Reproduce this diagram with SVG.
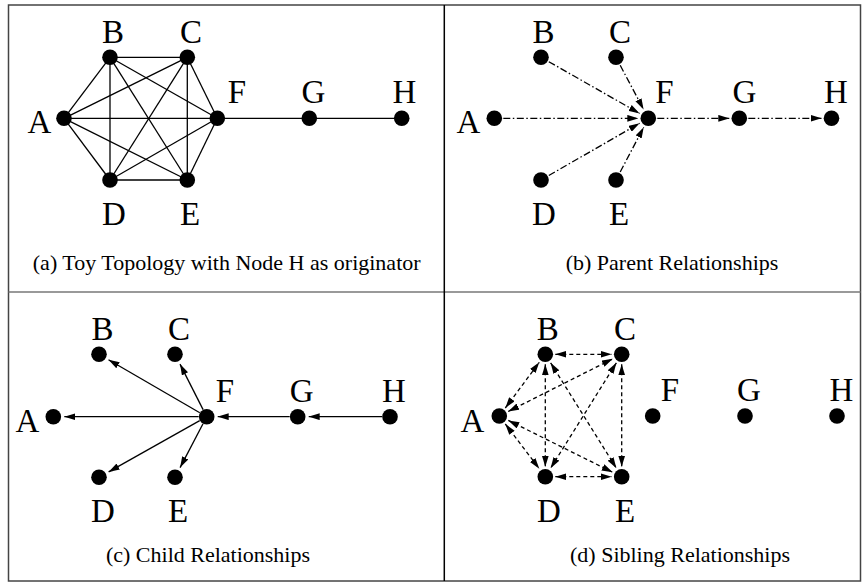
<svg xmlns="http://www.w3.org/2000/svg" width="862" height="585" viewBox="0 0 862 585">
<style>
.lbl{font-family:"Liberation Serif","Times New Roman",serif;font-size:33px;fill:#000;text-anchor:middle}
.cap{font-family:"Liberation Serif","Times New Roman",serif;font-size:22px;fill:#000;text-anchor:middle}
.dot{fill:#000}
.solid{stroke:#000;stroke-width:1.3;fill:none}
.dashdot{stroke:#000;stroke-width:1.3;fill:none;stroke-dasharray:7 2.5 1.5 2.5}
.dash{stroke:#000;stroke-width:1.3;fill:none;stroke-dasharray:4 3}
</style>
<defs>
<marker id="ah" markerUnits="userSpaceOnUse" markerWidth="11" markerHeight="7" refX="11" refY="3.4" orient="auto-start-reverse" viewBox="0 0 11 6.8">
<path d="M0,0 L11,3.4 L0,6.8 z" fill="#000"/>
</marker>
</defs>
<rect x="0" y="0" width="862" height="585" fill="#fff"/>
<g id="frame">
<rect x="8.5" y="5" width="852" height="576" fill="none" stroke="#444" stroke-width="1.5"/>
<line x1="8.5" y1="292" x2="860.5" y2="292" stroke="#777" stroke-width="1.5"/>
<line x1="444.3" y1="5" x2="444.3" y2="581" stroke="#000" stroke-width="1.5"/>
</g>

<!-- Panel (a) -->
<g id="connectors-a" class="solid">
<line x1="64" y1="118.3" x2="110" y2="57.3"/>
<line x1="64" y1="118.3" x2="187.3" y2="57.3"/>
<line x1="64" y1="118.3" x2="110" y2="180"/>
<line x1="64" y1="118.3" x2="187.3" y2="180"/>
<line x1="64" y1="118.3" x2="217.3" y2="118.3"/>
<line x1="110" y1="57.3" x2="187.3" y2="57.3"/>
<line x1="110" y1="57.3" x2="110" y2="180"/>
<line x1="110" y1="57.3" x2="187.3" y2="180"/>
<line x1="110" y1="57.3" x2="217.3" y2="118.3"/>
<line x1="187.3" y1="57.3" x2="110" y2="180"/>
<line x1="187.3" y1="57.3" x2="187.3" y2="180"/>
<line x1="187.3" y1="57.3" x2="217.3" y2="118.3"/>
<line x1="110" y1="180" x2="187.3" y2="180"/>
<line x1="110" y1="180" x2="217.3" y2="118.3"/>
<line x1="187.3" y1="180" x2="217.3" y2="118.3"/>
<line x1="217.3" y1="118.3" x2="309.3" y2="118.3"/>
<line x1="309.3" y1="118.3" x2="401.7" y2="118.3"/>
</g>
<g id="a-A"><circle class="dot" cx="64" cy="118.3" r="7.8"/><text class="lbl" x="39.5" y="133.3">A</text></g>
<g id="a-B"><circle class="dot" cx="110" cy="57.3" r="7.8"/><text class="lbl" x="113" y="42.5">B</text></g>
<g id="a-C"><circle class="dot" cx="187.3" cy="57.3" r="7.8"/><text class="lbl" x="191" y="42.5">C</text></g>
<g id="a-D"><circle class="dot" cx="110" cy="180" r="7.8"/><text class="lbl" x="114" y="225">D</text></g>
<g id="a-E"><circle class="dot" cx="187.3" cy="180" r="7.8"/><text class="lbl" x="190" y="225">E</text></g>
<g id="a-F"><circle class="dot" cx="217.3" cy="118.3" r="7.8"/><text class="lbl" x="237" y="103">F</text></g>
<g id="a-G"><circle class="dot" cx="309.3" cy="118.3" r="7.8"/><text class="lbl" x="313.5" y="103">G</text></g>
<g id="a-H"><circle class="dot" cx="401.7" cy="118.3" r="7.8"/><text class="lbl" x="404.5" y="103">H</text></g>
<text class="cap" x="226.7" y="270">(a) Toy Topology with Node H as originator</text>

<!-- Panel (b) -->
<g id="connectors-b" class="dashdot" marker-end="url(#ah)">
<line x1="503.3" y1="118.3" x2="638.3" y2="118.3"/>
<line x1="548.8" y1="61.7" x2="639.6" y2="113.4"/>
<line x1="620.2" y1="65.3" x2="643.6" y2="109.5"/>
<line x1="548.8" y1="175.5" x2="639.6" y2="123.3"/>
<line x1="620.2" y1="172" x2="643.7" y2="127.2"/>
<line x1="657.3" y1="118.3" x2="729.3" y2="118.3"/>
<line x1="748.3" y1="118.3" x2="821.5" y2="118.3"/>
</g>
<g id="b-A"><circle class="dot" cx="494.3" cy="118.3" r="7.8"/><text class="lbl" x="468.5" y="133.3">A</text></g>
<g id="b-B"><circle class="dot" cx="541" cy="57.3" r="7.8"/><text class="lbl" x="543.5" y="42.5">B</text></g>
<g id="b-C"><circle class="dot" cx="616" cy="57.3" r="7.8"/><text class="lbl" x="620" y="42.5">C</text></g>
<g id="b-D"><circle class="dot" cx="541" cy="180" r="7.8"/><text class="lbl" x="544" y="225">D</text></g>
<g id="b-E"><circle class="dot" cx="616" cy="180" r="7.8"/><text class="lbl" x="619" y="225">E</text></g>
<g id="b-F"><circle class="dot" cx="648.3" cy="118.3" r="7.8"/><text class="lbl" x="664.5" y="103">F</text></g>
<g id="b-G"><circle class="dot" cx="739.3" cy="118.3" r="7.8"/><text class="lbl" x="744.5" y="103">G</text></g>
<g id="b-H"><circle class="dot" cx="831.5" cy="118.3" r="7.8"/><text class="lbl" x="836" y="103">H</text></g>
<text class="cap" x="672" y="270">(b) Parent Relationships</text>

<!-- Panel (c) -->
<g id="connectors-c" class="solid" marker-end="url(#ah)">
<line x1="198.7" y1="416.7" x2="64.3" y2="416.7"/>
<line x1="199.8" y1="412.7" x2="108.5" y2="359.8"/>
<line x1="203.1" y1="409.6" x2="180" y2="364.1"/>
<line x1="199.7" y1="420.6" x2="108.6" y2="471.9"/>
<line x1="203" y1="423.8" x2="180.1" y2="467.6"/>
<line x1="289.7" y1="416.7" x2="217.7" y2="416.7"/>
<line x1="382" y1="416.7" x2="308.7" y2="416.7"/>
</g>
<g id="c-A"><circle class="dot" cx="53.3" cy="416.7" r="7.8"/><text class="lbl" x="27.5" y="431.7">A</text></g>
<g id="c-B"><circle class="dot" cx="99" cy="354.3" r="7.8"/><text class="lbl" x="102.5" y="339.5">B</text></g>
<g id="c-C"><circle class="dot" cx="175" cy="354.3" r="7.8"/><text class="lbl" x="179" y="339.5">C</text></g>
<g id="c-D"><circle class="dot" cx="99" cy="477.3" r="7.8"/><text class="lbl" x="103" y="522.3">D</text></g>
<g id="c-E"><circle class="dot" cx="175" cy="477.3" r="7.8"/><text class="lbl" x="178" y="522.3">E</text></g>
<g id="c-F"><circle class="dot" cx="206.7" cy="416.7" r="7.8"/><text class="lbl" x="225" y="401.5">F</text></g>
<g id="c-G"><circle class="dot" cx="297.7" cy="416.7" r="7.8"/><text class="lbl" x="301.7" y="401.5">G</text></g>
<g id="c-H"><circle class="dot" cx="390" cy="416.7" r="7.8"/><text class="lbl" x="394" y="401.5">H</text></g>
<text class="cap" x="208" y="562">(c) Child Relationships</text>

<!-- Panel (d) -->
<g id="connectors-d" class="dash" marker-start="url(#ah)" marker-end="url(#ah)">
<line x1="505.3" y1="408" x2="539.3" y2="362.3"/>
<line x1="508.2" y1="411.5" x2="612.8" y2="358.8"/>
<line x1="505.3" y1="424" x2="539.3" y2="468.7"/>
<line x1="508.3" y1="420.4" x2="612.7" y2="472.3"/>
<line x1="555.3" y1="354.3" x2="611.7" y2="354.3"/>
<line x1="545.3" y1="364.3" x2="545.3" y2="466.7"/>
<line x1="550.6" y1="362.8" x2="616.4" y2="468.2"/>
<line x1="616.4" y1="362.8" x2="550.6" y2="468.2"/>
<line x1="621.7" y1="364.3" x2="621.7" y2="466.7"/>
<line x1="555.3" y1="476.7" x2="611.7" y2="476.7"/>
</g>
<g id="d-A"><circle class="dot" cx="499.3" cy="416" r="7.8"/><text class="lbl" x="472.5" y="431.5">A</text></g>
<g id="d-B"><circle class="dot" cx="545.3" cy="354.3" r="7.8"/><text class="lbl" x="547.7" y="339.5">B</text></g>
<g id="d-C"><circle class="dot" cx="621.7" cy="354.3" r="7.8"/><text class="lbl" x="625" y="339.5">C</text></g>
<g id="d-D"><circle class="dot" cx="545.3" cy="476.7" r="7.8"/><text class="lbl" x="549" y="522.3">D</text></g>
<g id="d-E"><circle class="dot" cx="621.7" cy="476.7" r="7.8"/><text class="lbl" x="625" y="522.3">E</text></g>
<g id="d-F"><circle class="dot" cx="652.7" cy="416" r="7.8"/><text class="lbl" x="670" y="401">F</text></g>
<g id="d-G"><circle class="dot" cx="745" cy="416" r="7.8"/><text class="lbl" x="749" y="401">G</text></g>
<g id="d-H"><circle class="dot" cx="837" cy="416" r="7.8"/><text class="lbl" x="841.5" y="401">H</text></g>
<text class="cap" x="680" y="562">(d) Sibling Relationships</text>
</svg>
